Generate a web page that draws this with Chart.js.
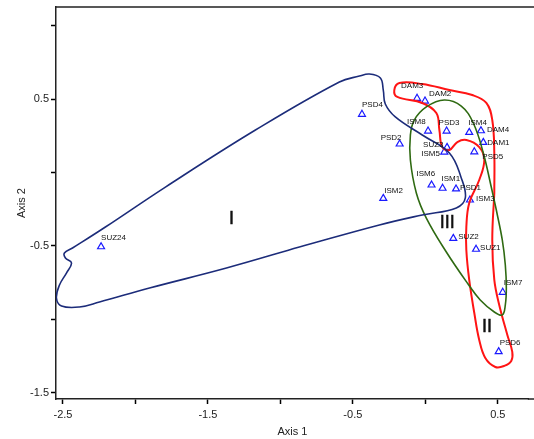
<!DOCTYPE html>
<html>
<head>
<meta charset="utf-8">
<script src="https://cdn.jsdelivr.net/npm/chart.js@4"></script>
<style>
  html, body { margin: 0; padding: 0; background: #fff; overflow: hidden; }
  #wrap { width: 534px; height: 439px; }
  canvas { display: block; }
</style>
</head>
<body>
<div id="wrap"><canvas id="chart"></canvas></div>
<script>
// sample scores
const names = ['DAM3','DAM2','PSD4','ISM8','PSD3','ISM4','DAM4','DAM1','PSD2','SUZ3','ISM5','PSD5',
               'ISM6','ISM1','PSD1','ISM2','ISM3','SUZ2','SUZ1','ISM7','PSD6','SUZ24'];
const axis1 = [-0.057, -0.002, -0.437, 0.019, 0.147, 0.303, 0.384, 0.400, -0.177, 0.150, 0.131, 0.338,
               0.043, 0.119, 0.212, -0.290, 0.308, 0.193, 0.350, 0.534, 0.506, -2.237];
const axis2 = [0.505, 0.486, 0.396, 0.282, 0.282, 0.273, 0.284, 0.205, 0.194, 0.171, 0.139, 0.141,
               -0.085, -0.107, -0.112, -0.176, -0.187, -0.448, -0.522, -0.815, -1.219, -0.505];

// group outlines (axis1, axis2 pairs)
const groupIx = [-0.869,-1.372,-1.903,-2.248,-2.386,-2.510,-2.545,-2.524,-2.476,-2.441,-2.483,-2.490,-2.434,
                 -2.207,-1.793,-1.172,-0.593,-0.455,-0.386,-0.310,-0.290,-0.276,-0.207,-0.021,0.166,0.248,
                 0.276,0.214,-0.021,-0.317,-0.869];
const groupIy = [-0.507,-0.650,-0.786,-0.881,-0.915,-0.908,-0.854,-0.765,-0.684,-0.616,-0.582,-0.548,-0.514,
                 -0.371,-0.099,0.289,0.616,0.656,0.670,0.643,0.561,0.466,0.378,0.255,0.133,-0.037,
                 -0.173,-0.241,-0.289,-0.357,-0.507];

const groupIIx = [0.476,0.462,0.476,0.510,0.566,0.600,0.593,0.545,0.483,0.414,0.372,0.338,0.303,0.283,0.283,
                  0.303,0.372,0.407,0.372,0.283,0.221,0.166,0.117,0.097,0.076,-0.021,-0.193,-0.214,-0.179,
                  -0.021,0.166,0.324,0.421,0.462,0.476,0.476];
const groupIIy = [-0.139,-0.459,-0.731,-0.901,-1.105,-1.221,-1.282,-1.316,-1.323,-1.262,-1.139,-0.956,-0.731,
                  -0.527,-0.371,-0.207,-0.051,0.085,0.173,0.221,0.207,0.153,0.173,0.289,0.405,0.473,0.514,
                  0.561,0.609,0.602,0.561,0.527,0.473,0.357,0.133,-0.139];

const groupIIIx = [0.490,0.531,0.552,0.559,0.552,0.531,0.476,0.379,0.290,0.145,0.007,-0.062,-0.103,-0.103,
                   -0.076,0.007,0.131,0.248,0.331,0.400,0.455,0.490];
const groupIIIy = [-0.255,-0.459,-0.629,-0.786,-0.901,-0.969,-0.949,-0.867,-0.752,-0.541,-0.310,-0.139,0.085,
                   0.255,0.357,0.446,0.493,0.452,0.337,0.133,-0.099,-0.255];

const groupNames = ['I', 'II', 'III'];
const groupLabelX = [-1.338, 0.425, 0.152];
const groupLabelY = [-0.316, -1.048, -0.344];

const xTicks = [-2.5, -2, -1.5, -1, -0.5, 0, 0.5];
const yTicks = [-1.5, -1, -0.5, 0, 0.5, 1];
const xLabelled = [-2.5, -1.5, -0.5, 0.5];
const yLabelled = [-1.5, -0.5, 0.5];

// label offsets in px from each triangle
const labelShift = [[-16,-12],[4,-7],[0,-9],[-21,-9],[-8,-8],[-1,-10],[6,-1],[4,0],[-19,-6],[-24,-3],[-23,2],[8,5],
                    [-15,-11],[-1,-9],[4,-1],[1,-8],[6,-1],[5,-2],[4,-1],[1,-9],[1,-9],[0,-9]];

const pairs = (xs, ys) => xs.map((v, i) => ({x: v, y: ys[i]}));
const font = '"Liberation Sans", Arial, sans-serif';

function outline(xs, ys, color, width) {
  return {
    data: pairs(xs, ys),
    showLine: true,
    borderColor: color,
    borderWidth: width,
    pointRadius: 0,
    tension: 0.4,
    fill: false
  };
}

const overlay = {
  id: 'overlay',
  afterDatasetsDraw(chart) {
    const {ctx, chartArea, scales: {x, y}} = chart;
    ctx.save();
    // frame: top line, and carry both lines to the right edge
    ctx.strokeStyle = '#222';
    ctx.lineWidth = 1.5;
    ctx.beginPath();
    ctx.moveTo(chartArea.left, chartArea.top);
    ctx.lineTo(chart.width, chartArea.top);
    ctx.moveTo(chartArea.right - 1, chartArea.bottom);
    ctx.lineTo(chart.width, chartArea.bottom);
    ctx.stroke();

    ctx.font = '8px ' + font;
    ctx.fillStyle = '#111';
    ctx.textAlign = 'left';
    ctx.textBaseline = 'middle';
    names.forEach((n, i) => {
      const px = x.getPixelForValue(axis1[i]);
      const py = y.getPixelForValue(axis2[i]);
      ctx.fillText(n, px + labelShift[i][0], py + labelShift[i][1]);
    });

    ctx.font = '18px ' + font;
    ctx.textAlign = 'center';
    ctx.strokeStyle = '#111';
    ctx.lineWidth = 0.5;
    groupNames.forEach((g, i) => {
      const gx = x.getPixelForValue(groupLabelX[i]), gy = y.getPixelForValue(groupLabelY[i]);
      ctx.fillText(g, gx, gy);
      ctx.strokeText(g, gx, gy);
    });
    ctx.restore();
  }
};

new Chart(document.getElementById('chart'), {
  type: 'scatter',
  data: {
    datasets: [
      outline(groupIx, groupIy, '#1c2c7a', 1.6),
      outline(groupIIIx, groupIIIy, '#2f6a12', 1.6),
      outline(groupIIx, groupIIy, '#ff1414', 2),
      {
        data: pairs(axis1, axis2),
        pointStyle: 'triangle',
        pointRadius: 4,
        borderColor: '#1a1aff',
        backgroundColor: 'rgba(0,0,0,0)',
        borderWidth: 1.2
      }
    ]
  },
  options: {
    responsive: true,
    maintainAspectRatio: false,
    animation: false,
    layout: { padding: { top: 7, right: 0, left: 0, bottom: 0 } },
    plugins: { legend: { display: false }, tooltip: { enabled: false } },
    scales: {
      x: {
        type: 'linear',
        min: -2.548,
        max: 0.714,
        afterBuildTicks: s => { s.ticks = xTicks.map(v => ({value: v})); },
        afterFit: s => { s.height = 40; s.paddingLeft = 0; s.paddingRight = 0; },
        grid: { drawOnChartArea: false, tickLength: 5, color: '#000', tickWidth: 1.5 },
        border: { color: '#222', width: 1.5 },
        ticks: {
          color: '#222', font: { size: 11, family: font }, padding: 4, autoSkip: false, maxRotation: 0,
          callback: v => xLabelled.includes(v) ? v.toFixed(1) : ''
        },
        title: { display: true, text: 'Axis 1', color: '#222', font: { size: 11, family: font }, padding: 0 }
      },
      y: {
        type: 'linear',
        min: -1.541,
        max: 1.126,
        afterBuildTicks: s => { s.ticks = yTicks.map(v => ({value: v})); },
        afterFit: s => { s.width = 56; s.paddingTop = 0; s.paddingBottom = 0; },
        grid: { drawOnChartArea: false, tickLength: 5, color: '#000', tickWidth: 1.5 },
        border: { color: '#222', width: 1.5 },
        ticks: {
          color: '#222', font: { size: 11, family: font }, padding: 2, autoSkip: false,
          callback: v => yLabelled.includes(v) ? v.toFixed(1) : ''
        },
        title: { display: true, text: 'Axis 2', color: '#222', font: { size: 11, family: font }, padding: { top: 15, bottom: 0 } }
      }
    }
  },
  plugins: [overlay]
});
</script>
</body>
</html>
